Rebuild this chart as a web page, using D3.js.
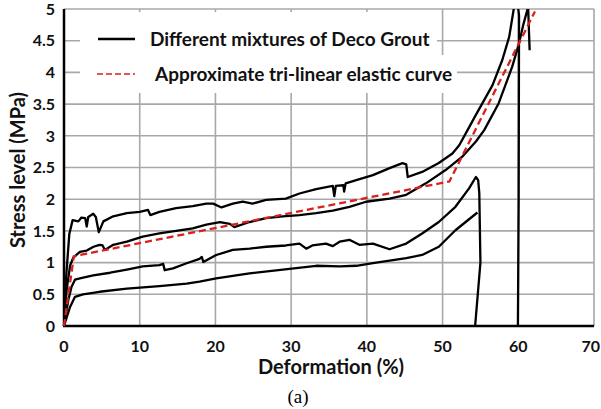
<!DOCTYPE html>
<html>
<head>
<meta charset="utf-8">
<script src="https://cdn.jsdelivr.net/npm/d3@7"></script>
<style>
  html, body { margin: 0; padding: 0; background: #fff; }
  svg { display: block; }
</style>
</head>
<body>
<svg id="chart" width="601" height="409"></svg>
<script>
// ---------- data ----------
const xTicks = [0, 10, 20, 30, 40, 50, 60, 70];
const yTicks = [0, 0.5, 1, 1.5, 2, 2.5, 3, 3.5, 4, 4.5, 5];
const yTickLabels = ["0", "0.5", "1", "1.5", "2", "2.5", "3", "3.5", "4", "4.5", "5"];

const mixA = [[0,0],[0.3,0.8],[0.7,1.45],[1.14,1.67],[1.9,1.65],[2.3,1.71],[2.8,1.70],[3.0,1.57],[3.2,1.72],[3.86,1.77],[4.2,1.72],[4.6,1.48],[5.2,1.65],[6.5,1.73],[8.3,1.78],[10,1.80],[11.1,1.83],[11.4,1.75],[12.6,1.80],[14.8,1.86],[17,1.89],[18.8,1.93],[19.7,1.93],[20.8,1.87],[22.3,1.93],[23.6,1.96],[24.9,1.93],[26.7,1.99],[29.3,2.01],[31.1,2.09],[33.3,2.16],[35.5,2.21],[35.7,2.05],[35.9,2.21],[36.9,2.22],[37.0,2.12],[37.2,2.25],[38.6,2.30],[40.8,2.38],[43,2.49],[44.7,2.57],[45.2,2.55],[45.4,2.35],[47.3,2.43],[49.5,2.57],[51.3,2.72],[52.2,2.85],[53.3,3.09],[54.4,3.33],[56.6,3.80],[57.9,4.20],[58.8,4.56],[59.4,5.0],[59.75,5.25],[60.1,4.9],[60.05,2.0],[59.95,0]];
const mixB = [[0,0],[0.35,0.57],[0.8,0.95],[1.23,1.08],[2.1,1.17],[3.0,1.19],[3.9,1.25],[4.7,1.28],[5.1,1.27],[5.4,1.2],[6.5,1.28],[8.3,1.33],[10.4,1.41],[12.6,1.46],[14.8,1.50],[17,1.54],[18.8,1.60],[20.6,1.64],[21.9,1.61],[22.5,1.56],[24.5,1.64],[26.7,1.70],[28.9,1.73],[31.1,1.75],[33.3,1.78],[35.5,1.82],[37.7,1.88],[39.9,1.96],[43,2.01],[45.2,2.07],[47.8,2.25],[50.4,2.46],[52.6,2.67],[54.4,2.91],[55.5,3.09],[57.4,3.51],[59.2,4.09],[60.1,4.46],[60.7,4.77],[61.3,5.03],[61.5,4.35]];
const mixC = [[0,0],[0.57,0.41],[1.0,0.62],[1.45,0.73],[2.1,0.75],[3.86,0.80],[6.1,0.84],[8.3,0.89],[10.4,0.94],[12.6,0.96],[13.1,0.98],[13.3,0.88],[14.4,0.91],[16.2,0.99],[17.9,1.06],[18.2,1.09],[18.4,1.01],[20.1,1.12],[22.3,1.20],[24.5,1.22],[26.7,1.25],[29.3,1.27],[31.1,1.30],[32,1.22],[32.8,1.27],[34.6,1.30],[35.5,1.26],[36.4,1.33],[37.7,1.36],[39,1.28],[40.8,1.30],[43,1.21],[45.2,1.30],[47.3,1.46],[49.5,1.64],[51.7,1.88],[53.5,2.17],[54.4,2.35],[54.7,2.30],[54.85,2.1],[55.0,1.0],[54.3,0]];
const mixD = [[0,0],[0.8,0.30],[1.45,0.46],[2.5,0.50],[4.7,0.54],[8.3,0.59],[12.6,0.63],[16.2,0.67],[17.9,0.70],[20.1,0.75],[24.5,0.83],[28.9,0.89],[33.3,0.95],[36.4,0.94],[38.6,0.95],[40.8,0.99],[43,1.03],[45.2,1.07],[47.3,1.12],[49.5,1.25],[51.7,1.51],[54.6,1.79]];
const triLinear = [[0,0],[1.3,1.1],[50.9,2.28],[62.2,4.96]];

const legendLabels = ["Different mixtures of Deco Grout", "Approximate tri-linear elastic curve"];

// ---------- layout ----------
const svg = d3.select("#chart");
const x = d3.scaleLinear().domain([0, 70]).range([64, 594]);
const y = d3.scaleLinear().domain([0, 5]).range([326, 9]);
const font = "Lato, 'Open Sans', sans-serif";
const textColor = "#111";

// grid
const grid = svg.append("g");
grid.selectAll("line.v").data(xTicks.slice(1)).enter().append("line")
  .attr("x1", d => x(d)).attr("x2", d => x(d))
  .attr("y1", y(0)).attr("y2", y(5))
  .attr("stroke", "#a8a8a8").attr("stroke-width", 1.6);
grid.selectAll("line.h").data(yTicks.slice(1)).enter().append("line")
  .attr("x1", x(0)).attr("x2", x(70))
  .attr("y1", d => y(d)).attr("y2", d => y(d))
  .attr("stroke", "#a8a8a8").attr("stroke-width", 1.6);

// legend background
svg.append("rect").attr("x", 80).attr("y", 12).attr("width", 357).attr("height", 43).attr("fill", "#fff");
svg.append("rect").attr("x", 80).attr("y", 55).attr("width", 377).attr("height", 38).attr("fill", "#fff");

// axes lines
svg.append("line").attr("x1", x(0)).attr("x2", x(0)).attr("y1", y(0)).attr("y2", y(5))
  .attr("stroke", "#000").attr("stroke-width", 2.5);
svg.append("line").attr("x1", x(0) - 1).attr("x2", x(70)).attr("y1", y(0)).attr("y2", y(0))
  .attr("stroke", "#000").attr("stroke-width", 2.5);

// clip
svg.append("clipPath").attr("id", "plotclip").append("rect")
  .attr("x", x(0) - 2).attr("y", y(5)).attr("width", x(70) - x(0) + 4).attr("height", y(0) - y(5) + 2);

const line = d3.line().x(d => x(d[0])).y(d => y(d[1]));
const curves = svg.append("g").attr("clip-path", "url(#plotclip)");
[mixD, mixC, mixB, mixA].forEach(s => {
  curves.append("path").attr("d", line(s)).attr("fill", "none")
    .attr("stroke", "#000").attr("stroke-width", 2.3).attr("stroke-linejoin", "round");
});
curves.append("path").attr("d", line(triLinear)).attr("fill", "none")
  .attr("stroke", "#d9201f").attr("stroke-width", 2.3).attr("stroke-dasharray", "7,4");

// tick labels
svg.selectAll("text.yt").data(yTicks).enter().append("text")
  .attr("x", 55).attr("y", d => y(d)).attr("dy", "0.36em")
  .attr("text-anchor", "end").attr("font-family", font).attr("font-weight", "bold")
  .attr("font-size", 16).attr("fill", textColor)
  .text((d, i) => yTickLabels[i]);
svg.selectAll("text.xt").data(xTicks).enter().append("text")
  .attr("x", d => d === 70 ? 600 : x(d)).attr("y", 346).attr("dy", "0.36em")
  .attr("text-anchor", d => d === 70 ? "end" : "middle").attr("font-family", font).attr("font-weight", "bold")
  .attr("font-size", 16).attr("fill", textColor)
  .text(d => d);

// axis titles
svg.append("text").attr("x", 331).attr("y", 374).attr("text-anchor", "middle")
  .attr("font-family", font).attr("font-weight", "bold").attr("font-size", 20).attr("fill", textColor)
  .text("Deformation (%)");
svg.append("text").attr("transform", "translate(25,170) rotate(-90)").attr("text-anchor", "middle")
  .attr("font-family", font).attr("font-weight", "bold").attr("font-size", 20).attr("fill", textColor)
  .text("Stress level (MPa)");
svg.append("text").attr("x", 298).attr("y", 403).attr("text-anchor", "middle")
  .attr("font-family", "'Liberation Serif', 'DejaVu Serif', serif").attr("font-size", 19).attr("fill", "#000")
  .text("(a)");

// legend
svg.append("line").attr("x1", 98).attr("x2", 135).attr("y1", 39).attr("y2", 39)
  .attr("stroke", "#000").attr("stroke-width", 2.4);
svg.append("text").attr("x", 150).attr("y", 46).attr("font-family", font).attr("font-weight", "bold")
  .attr("font-size", 19).attr("fill", textColor).text(legendLabels[0]);
svg.append("line").attr("x1", 97).attr("x2", 135).attr("y1", 74).attr("y2", 74)
  .attr("stroke", "#d9201f").attr("stroke-width", 1.6).attr("stroke-dasharray", "6,3");
svg.append("text").attr("x", 155).attr("y", 81).attr("font-family", font).attr("font-weight", "bold")
  .attr("font-size", 19).attr("fill", textColor).text(legendLabels[1]);
</script>
</body>
</html>
